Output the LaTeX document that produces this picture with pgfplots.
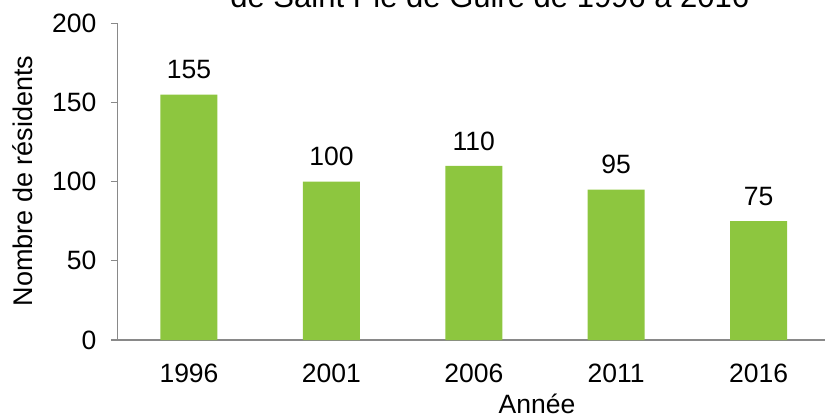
\documentclass[border=0pt]{standalone}
\usepackage{fontspec}
\setmainfont{Liberation Sans}
\usepackage{pgfplots}
\pgfplotsset{compat=1.18}
\definecolor{barg}{HTML}{8DC63F}
\definecolor{axg}{HTML}{898989}
\begin{document}
\begin{tikzpicture}
\begin{axis}[
  at={(0,0)}, anchor=south west,
  scale only axis,
  width=712bp, height=316.7bp,
  xmin=-0.5, xmax=4.5, ymin=0, ymax=200,
  axis x line*=bottom, axis y line*=left,
  axis line style={draw=axg, line width=1.3bp},
  xtick={0,1,2,3,4},
  xticklabels={1996,2001,2006,2011,2016},
  xtick style={draw=none},
  ytick={0,50,100,150,200},
  ytick style={draw=axg, line width=1.3bp},
  tick align=outside,
  major tick length=7bp,
  /pgf/number format/assume math mode=true,
  ticklabel style={font=\fontsize{26.5bp}{30bp}\selectfont, text=black},
  yticklabel style={anchor=east, xshift=-11bp},
  xticklabel style={anchor=base, yshift=-35bp},
  ylabel={Nombre de résidents},
  ylabel style={font=\fontsize{27bp}{30bp}\selectfont, at={(axis description cs:-0.133,0.502)}, anchor=center},
  xlabel={Année},
  xlabel style={font=\fontsize{26.5bp}{30bp}\selectfont, at={(axis description cs:0.5887,0)}, anchor=base, yshift=-73.3bp},
  title={de Saint Pie de Guire de 1996 à 2016},
  title style={font=\fontsize{31bp}{36bp}\selectfont, at={(axis description cs:0.5225,1.0325)}, anchor=base},
  nodes near coords,
  nodes near coords style={font=\fontsize{26.5bp}{30bp}\selectfont, text=black, anchor=base, yshift=15.7bp},
  clip=false,
]
\addplot[ybar, bar width=57bp, fill=barg, draw=none] coordinates {(0,155) (1,100) (2,110) (3,95) (4,75)};
\end{axis}
\pgfresetboundingbox
\useasboundingbox (-117.8bp,-76bp) rectangle (707.2bp,340bp);
\end{tikzpicture}
\end{document}
